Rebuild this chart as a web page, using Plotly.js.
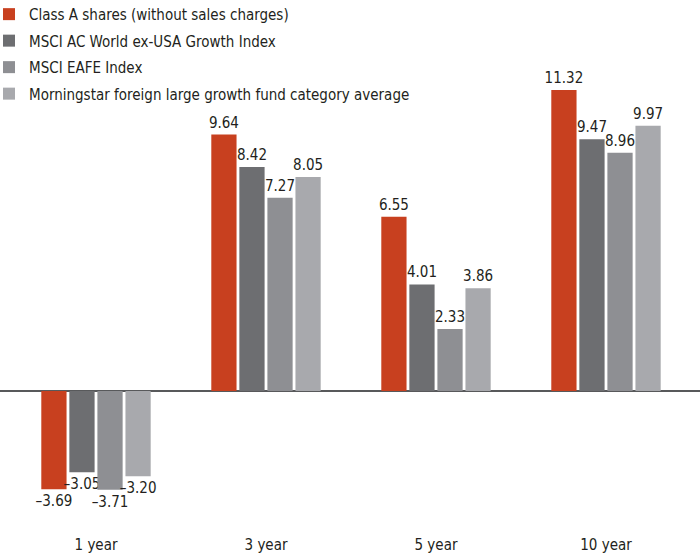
<!DOCTYPE html>
<html>
<head>
<meta charset="utf-8">
<script src="https://cdn.plot.ly/plotly-3.0.1.min.js"></script>
<style>html,body{margin:0;padding:0;background:#fff;}#chart{width:700px;height:556px;}</style>
</head>
<body>
<div id="chart"></div>
<script>
const categories = ["1 year", "3 year", "5 year", "10 year"];
const seriesNames = [
  "Class A shares (without sales charges)",
  "MSCI AC World ex-USA Growth Index",
  "MSCI EAFE Index",
  "Morningstar foreign large growth fund category average"
];
const classA = [-3.69, 9.64, 6.55, 11.32];
const acwiGrowth = [-3.05, 8.42, 4.01, 9.47];
const eafe = [-3.71, 7.27, 2.33, 8.96];
const morningstar = [-3.20, 8.05, 3.86, 9.97];
const colors = ["#C8401F", "#6D6E71", "#8E8F93", "#A8A9AD"];

const FONT = "'Liberation Sans Narrow', 'DejaVu Sans Condensed', 'Liberation Sans', sans-serif";
function fmt(v){ return (v < 0 ? "\u2013" : "") + Math.abs(v).toFixed(2); }

const allSeries = [classA, acwiGrowth, eafe, morningstar];
const traces = allSeries.map((vals, i) => ({
  type: "bar",
  name: seriesNames[i],
  x: categories,
  y: vals,
  text: vals.map(fmt),
  textposition: "outside",
  textfont: {family: FONT, size: 15, color: "#231F20"},
  constraintext: "none",
  cliponaxis: false,
  marker: {color: colors[i]},
  legendgroup: "g" + i,
  hoverinfo: "none"
}));

const layout = {
  width: 700, height: 556,
  margin: {l: 0, r: 0, t: 0, b: 29, autoexpand: false},
  paper_bgcolor: "#fff", plot_bgcolor: "#fff",
  font: {family: FONT, size: 15, color: "#231F20"},
  barmode: "group",
  bargap: 0.34,
  bargroupgap: 0.1,
  showlegend: true,
  legend: {
    x: -0.0157, xanchor: "left", y: 1.004, yanchor: "top",
    bgcolor: "rgba(0,0,0,0)",
    font: {family: FONT, size: 15, color: "#231F20"},
    traceorder: "grouped", tracegroupgap: 4
  },
  xaxis: {
    type: "category",
    range: [-0.5647, 3.553],
    showgrid: false, zeroline: false, showline: false,
    ticks: "outside", ticklen: 4, tickcolor: "rgba(0,0,0,0)",
    tickfont: {family: FONT, size: 15, color: "#231F20"}
  },
  yaxis: {
    range: [-5.11, 14.70],
    showgrid: false, showticklabels: false, ticks: "",
    showline: false,
    zeroline: true, zerolinecolor: "#58595B", zerolinewidth: 1.5
  }
};

Plotly.newPlot("chart", traces, layout, {staticPlot: true, displayModeBar: false});
</script>
</body>
</html>
